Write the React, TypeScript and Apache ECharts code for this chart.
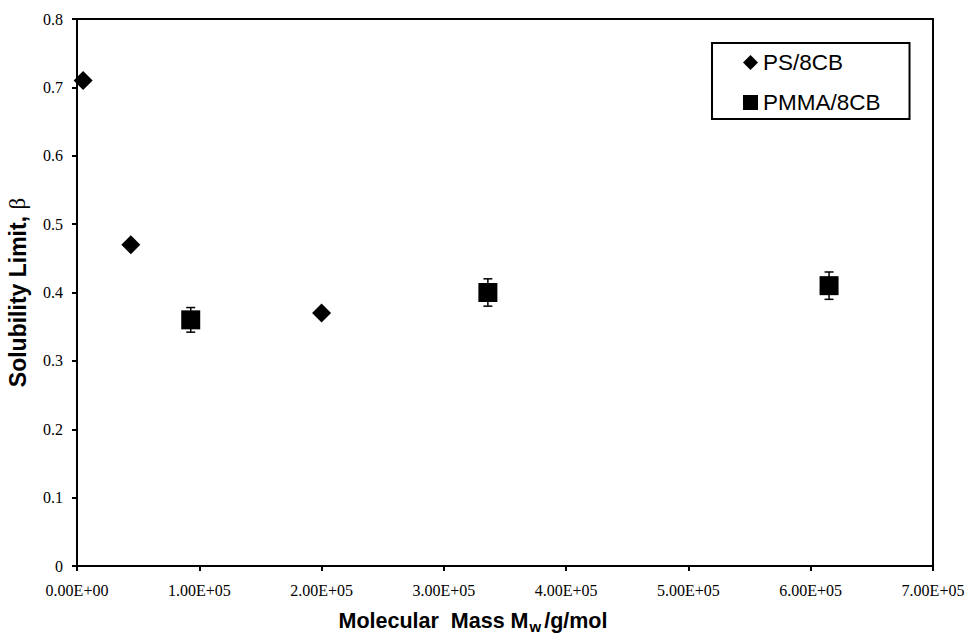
import React, { useEffect, useRef } from "react";
import * as echarts from "echarts";

// PS/8CB data (diamonds)
const psX = [5000, 44000, 200000];
const psY = [0.71, 0.47, 0.37];

// PMMA/8CB data (squares) with error bars
const pmmaX = [93000, 336000, 615000];
const pmmaY = [0.36, 0.4, 0.41];
const pmmaErr = [0.018, 0.02, 0.02];

// axis ticks
const xTicks = { min: 0, max: 700000, interval: 100000 };
const yTicks = { min: 0, max: 0.8, interval: 0.1 };

const serif = "'Liberation Serif', 'Times New Roman', serif";
const sans = "'Liberation Sans', Arial, sans-serif";

export default function App() {
  const ref = useRef<HTMLDivElement>(null);

  useEffect(() => {
    if (!ref.current) return;
    const chart = echarts.init(ref.current, undefined, { renderer: "svg" });

    const psData = psX.map((x, i) => [x, psY[i]]);
    const pmmaData = pmmaX.map((x, i) => [x, pmmaY[i]]);
    const errData = pmmaX.map((x, i) => [x, pmmaY[i], pmmaErr[i]]);

    chart.setOption({
      animation: false,
      backgroundColor: "#fff",
      grid: {
        left: 77,
        right: 33,
        top: 19,
        bottom: 71,
        show: true,
        borderColor: "#000",
        borderWidth: 2,
        backgroundColor: "transparent",
        containLabel: false,
        outerBoundsMode: "none",
      },
      legend: {
        orient: "vertical",
        left: 712,
        top: 43,
        padding: [8, 29, 5, 31],
        borderColor: "#000",
        borderWidth: 2,
        backgroundColor: "#fff",
        itemWidth: 15,
        itemHeight: 15,
        itemGap: 17,
        itemTextGap: 6,
        textStyle: { fontFamily: sans, fontSize: 22.5, color: "#000", lineHeight: 22 },
        data: [
          { name: "PS/8CB", icon: "diamond" },
          { name: "PMMA/8CB", icon: "rect" },
        ],
      },
      xAxis: {
        type: "value",
        min: xTicks.min,
        max: xTicks.max,
        interval: xTicks.interval,
        splitLine: { show: false },
        axisLine: { show: true, onZero: false, lineStyle: { color: "#000", width: 2 } },
        axisTick: { show: true, inside: false, length: 5, lineStyle: { color: "#000", width: 2 } },
        axisLabel: {
          margin: 16,
          fontFamily: serif,
          fontSize: 16,
          color: "#000",
          formatter: (v: number) =>
            v === 0 ? "0.00E+00" : (v / 100000).toFixed(2) + "E+05",
        },
        name: "{a|Molecular  Mass M}{s|w}{a|/g/mol}",
        nameLocation: "middle",
        nameGap: 44,
        nameTextStyle: {
          padding: [0, 64, 0, 0],
          rich: {
            a: { fontFamily: sans, fontSize: 21.5, fontWeight: "bold", color: "#000", lineHeight: 22 },
            s: {
              fontFamily: sans,
              fontSize: 15,
              fontWeight: "bold",
              color: "#000",
              lineHeight: 15,
              padding: [11, 3, 0, 1],
            },
          },
        },
      },
      yAxis: {
        type: "value",
        min: yTicks.min,
        max: yTicks.max,
        interval: yTicks.interval,
        splitLine: { show: false },
        axisLine: { show: true, lineStyle: { color: "#000", width: 2 } },
        axisTick: { show: true, inside: false, length: 5, lineStyle: { color: "#000", width: 2 } },
        axisLabel: {
          margin: 14,
          fontFamily: serif,
          fontSize: 16,
          color: "#000",
          formatter: (v: number) => (v === 0 ? "0" : v.toFixed(1)),
        },
        name: "{a|Solubility Limit, }{b|β}",
        nameLocation: "middle",
        nameGap: 48,
        nameTextStyle: {
          rich: {
            a: { fontFamily: sans, fontSize: 23, fontWeight: "bold", color: "#000" },
            b: { fontFamily: serif, fontSize: 23, fontWeight: "normal", color: "#000" },
          },
        },
      },
      series: [
        {
          name: "PS/8CB",
          type: "scatter",
          symbol: "diamond",
          symbolSize: 19,
          itemStyle: { color: "#000", opacity: 1 },
          data: psData,
          z: 3,
        },
        {
          name: "PMMA/8CB-err",
          type: "custom",
          data: errData,
          encode: { x: 0, y: 1 },
          z: 2,
          renderItem: (params: any, api: any) => {
            const x = api.value(0);
            const y = api.value(1);
            const e = api.value(2);
            const top = api.coord([x, y + e]);
            const bot = api.coord([x, y - e]);
            const hw = 4.5;
            const st = { stroke: "#000", lineWidth: 1.5 };
            return {
              type: "group",
              children: [
                { type: "line", shape: { x1: top[0], y1: top[1], x2: bot[0], y2: bot[1] }, style: st },
                { type: "line", shape: { x1: top[0] - hw, y1: top[1], x2: top[0] + hw, y2: top[1] }, style: st },
                { type: "line", shape: { x1: bot[0] - hw, y1: bot[1], x2: bot[0] + hw, y2: bot[1] }, style: st },
              ],
            };
          },
        },
        {
          name: "PMMA/8CB",
          type: "scatter",
          symbol: "rect",
          symbolSize: 19,
          itemStyle: { color: "#000", opacity: 1 },
          data: pmmaData,
          z: 3,
        },
      ],
    });

    return () => chart.dispose();
  }, []);

  return (
    <div
      ref={ref}
      style={{ position: "absolute", left: 0, top: 0, width: 966, height: 637 }}
    />
  );
}
